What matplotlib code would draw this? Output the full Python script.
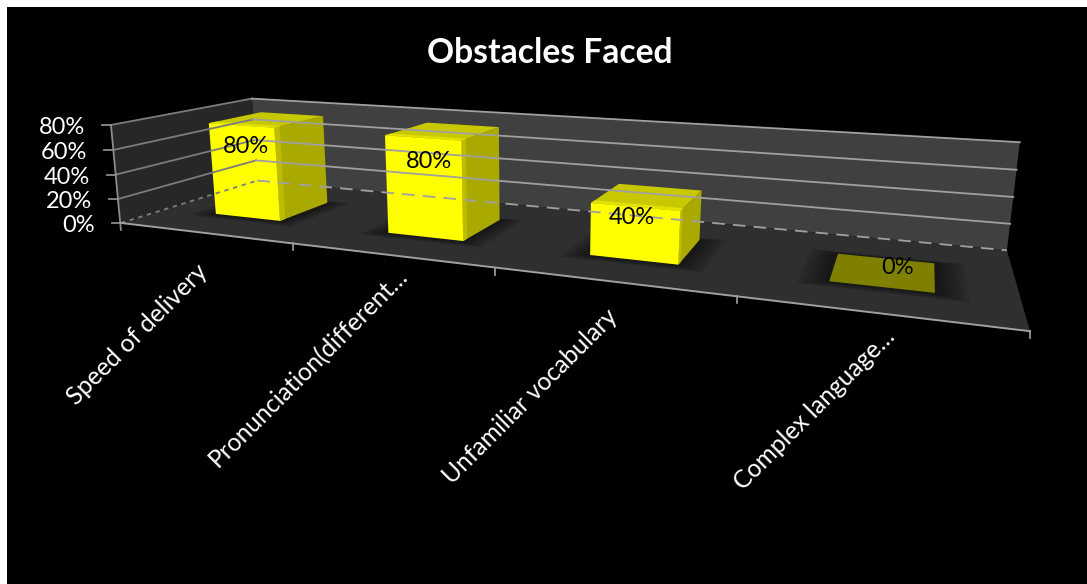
import numpy as np
import matplotlib
matplotlib.use("Agg")
import matplotlib.pyplot as plt
from matplotlib.patches import Polygon, Rectangle

plt.rcParams["font.family"] = ["Lato", "DejaVu Sans"]

categories = ["Speed of delivery", "Pronunciation(different\u2026", "Unfamiliar vocabulary", "Complex language\u2026"]
values = [80, 80, 40, 0]
value_ticks = [0, 20, 40, 60, 80]
value_max = 80

# camera for the 3d box: (category, depth, height 0-1) -> pixel
P = np.array([[149.84517, 188.810666, -12.559074, 120.898854],
              [2.168494, -5.651878, -100.961567, 222.955238],
              [-0.075173, 0.203516, -0.023729, 1.0]])


def proj(x, d, z):
    h = P @ np.array([x, d, z, 1.0])
    return h[:2] / h[2]


def face(*pts):
    return [proj(*p) for p in pts]


def segment(p0, p1, **kw):
    ax.plot([p0[0], p1[0]], [p0[1], p1[1]], **kw)


fig = plt.figure(figsize=(10.87, 5.84), dpi=100, facecolor="white")
ax = fig.add_axes([0, 0, 1, 1])
ax.set_xlim(0, 1087)
ax.set_ylim(584, 0)
ax.axis("off")
ax.add_patch(Rectangle((7, 7), 1080, 577, color="black", lw=0))

n = len(categories)

# walls and floor
ax.add_patch(Polygon(face((0, 1, 0), (n, 1, 0), (n, 1, 1), (0, 1, 1)), color="#404040", lw=0))
ax.add_patch(Polygon(face((0, 0, 0), (0, 1, 0), (0, 1, 1), (0, 0, 1)), color="#272727", lw=0))
ax.add_patch(Polygon(face((0, 0, 0), (n, 0, 0), (n, 1, 0), (0, 1, 0)), color="#2f2f2f", lw=0))

# gridlines, dimmer on the side wall
grid = "#a0a0a0"
side = "#7c7c7c"
for t in value_ticks:
    z = t / value_max
    a, b, c = proj(0, 0, z), proj(0, 1, z), proj(n, 1, z)
    segment(a, b, color=side, lw=1.3, ls=(0, (2.5, 2.5)) if t == 0 else "-")
    segment(b, c, color=grid, lw=1.3, ls=(0, (7, 4.5)) if t == 0 else "-")
    segment((a[0] - 9, a[1]), a, color="#8c8c8c", lw=1.3)
    ax.text(a[0] - 26, a[1] + 2.5, f"{t}%", color="white", fontsize=17, ha="right", va="center")

# axis edges and category ticks
a, b = proj(0, 0, 0), proj(0, 0, 1)
segment((a[0], a[1] + 7), b, color="#8c8c8c", lw=1.3)
segment(proj(0, 0, 0), proj(n, 0, 0), color=grid, lw=1.4)
for i in range(1, n + 1):
    a = proj(i, 0, 0)
    segment(a, (a[0], a[1] + 7), color=grid, lw=1.2)

# soft shadows on the floor, then the bars
bar_x = (0.31, 0.70)
bar_d = (0.30, 0.69)
bar_scale = 0.96  # bars stop a little short of the top gridline
for i, v in enumerate(values):
    x0, x1 = i + bar_x[0], i + bar_x[1]
    d0, d1 = bar_d
    z = v / value_max * bar_scale
    for g in np.linspace(0.12, 0.015, 8):
        ax.add_patch(Polygon(face((x0 - g, d0 - g * 0.6, 0), (x1 + g, d0 - g * 0.6, 0),
                                 (x1 + g, d1 + g * 0.3, 0), (x0 - g, d1 + g * 0.3, 0)),
                             color="black", alpha=0.07, lw=0))
    if v == 0:
        ax.add_patch(Polygon(face((x0, d0, 0), (x1, d0, 0), (x1, d1, 0), (x0, d1, 0)), color="#808000", lw=0))
    else:
        ax.add_patch(Polygon(face((x1, d0, 0), (x1, d1, 0), (x1, d1, z), (x1, d0, z)), color="#a9a900", lw=0))
        ax.add_patch(Polygon(face((x1, d0, 0), (x1, d0 + 0.04, 0), (x1, d0 + 0.04, z), (x1, d0, z)), color="#bcbc00", lw=0))
        ax.add_patch(Polygon(face((x0, d0, z), (x1, d0, z), (x1, d1, z), (x0, d1, z)), color="#c8c800", lw=0))
        ax.add_patch(Polygon(face((x0, d0, z), (x1, d0, z), (x1, d0 + 0.05, z), (x0, d0 + 0.05, z)), color="#e2e200", lw=0))
        ax.add_patch(Polygon(face((x0, d0, 0), (x1, d0, 0), (x1, d0, z), (x0, d0, z)), color="#ffff00", lw=0))

# data labels sit just under the top of the front face
label_dx = [6, 7, -2, 18]
label_dy = [21, 24, 11, -19]
for i, v in enumerate(values):
    p = proj(i + 0.5, bar_d[0], v / value_max * bar_scale)
    ax.text(p[0] + label_dx[i], p[1] + label_dy[i], f"{v}%", color="black", fontsize=17, ha="center", va="center")

# category labels
cat_dx = [-8, 6, -4, 7]
cat_dy = [27, 9, 24, 12]
for i, c in enumerate(categories):
    p = proj(i + 0.5, 0, 0)
    ax.text(p[0] + cat_dx[i], p[1] + cat_dy[i], c, color="white", fontsize=17.7, rotation=45,
            rotation_mode="anchor", ha="right", va="top")

ax.text(550, 53, "Obstacles Faced", color="white", fontsize=24.2, fontweight="bold", ha="center", va="center")

fig.savefig("out.png", dpi=100, facecolor=fig.get_facecolor())
